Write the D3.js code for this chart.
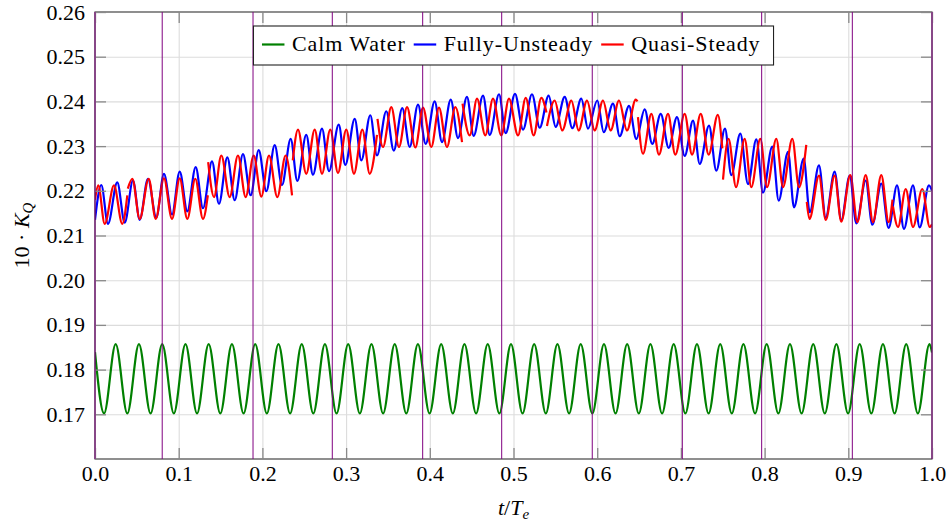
<!DOCTYPE html>
<html><head><meta charset="utf-8">
<script src="https://cdn.jsdelivr.net/npm/d3@7"></script>
<style>
body{margin:0;background:#fff}
svg text{font-family:"Liberation Serif","Tinos","DejaVu Serif","Noto Serif",serif !important;fill:#000}
</style></head>
<body>
<svg id="c" width="950" height="522"></svg>
<script>
// ---------- data ----------
const xTicks = [0.0,0.1,0.2,0.3,0.4,0.5,0.6,0.7,0.8,0.9,1.0];
const yTicks = [0.17,0.18,0.19,0.20,0.21,0.22,0.23,0.24,0.25,0.26];
const waveLines = [0, 0.0803, 0.1888, 0.2835, 0.3915, 0.4859, 0.5941, 0.7017, 0.7965, 0.9048, 1.0];
const seriesNames = ["Calm Water","Fully-Unsteady","Quasi-Steady"];
const seriesColors = ["#008000","#0000ff","#ff0000"];

// Calm water: start, alternating troughs/peaks, end
const calmX = [0,0.0108,0.0247,0.0386,0.0525,0.0664,0.0803,0.0942,0.1081,0.1219,0.1358,0.1497,0.1636,0.1775,0.1914,0.2053,0.2192,0.2331,0.2470,0.2608,0.2747,0.2886,0.3025,0.3164,0.3303,0.3442,0.3581,0.3719,0.3858,0.3997,0.4136,0.4275,0.4414,0.4553,0.4692,0.4831,0.4970,0.5108,0.5247,0.5386,0.5525,0.5664,0.5803,0.5942,0.6081,0.6219,0.6358,0.6497,0.6636,0.6775,0.6914,0.7053,0.7192,0.7331,0.7470,0.7608,0.7747,0.7886,0.8025,0.8164,0.8303,0.8442,0.8581,0.8719,0.8858,0.8997,0.9136,0.9275,0.9414,0.9553,0.9692,0.9831,0.9970,1.0];
const calmY = [0.1839,0.1702,0.1857,0.1702,0.1857,0.1702,0.1857,0.1702,0.1857,0.1702,0.1857,0.1702,0.1857,0.1702,0.1857,0.1702,0.1857,0.1702,0.1857,0.1702,0.1857,0.1702,0.1857,0.1702,0.1857,0.1702,0.1857,0.1702,0.1857,0.1702,0.1857,0.1702,0.1857,0.1702,0.1857,0.1702,0.1857,0.1702,0.1857,0.1702,0.1857,0.1702,0.1857,0.1702,0.1857,0.1702,0.1857,0.1702,0.1857,0.1702,0.1857,0.1702,0.1857,0.1702,0.1857,0.1702,0.1857,0.1702,0.1857,0.1702,0.1857,0.1702,0.1857,0.1702,0.1857,0.1702,0.1857,0.1702,0.1857,0.1702,0.1857,0.1702,0.1857,0.1838];

// Fully-unsteady: start, alternating peaks/troughs, end
const unsteadyX = [0,0.0075,0.0155,0.0266,0.0355,0.0454,0.0534,0.0633,0.0732,0.0824,0.0920,0.1012,0.1103,0.1203,0.1290,0.1398,0.1481,0.1581,0.1669,0.1768,0.1860,0.1956,0.2047,0.2147,0.2234,0.2338,0.2417,0.2524,0.2604,0.2712,0.2796,0.2912,0.2990,0.3103,0.3182,0.3289,0.3369,0.3480,0.3569,0.3671,0.3760,0.3859,0.3951,0.4058,0.4146,0.4250,0.4337,0.4444,0.4524,0.4636,0.4716,0.4827,0.4907,0.5018,0.5114,0.5221,0.5313,0.5420,0.5504,0.5612,0.5703,0.5810,0.5890,0.6001,0.6078,0.6189,0.6269,0.6380,0.6467,0.6567,0.6658,0.6759,0.6854,0.6953,0.7045,0.7145,0.7225,0.7336,0.7423,0.7527,0.7602,0.7710,0.7802,0.7901,0.7981,0.8092,0.8168,0.8280,0.8351,0.8467,0.8539,0.8650,0.8730,0.8837,0.8916,0.9017,0.9096,0.9208,0.9287,0.9394,0.9482,0.9582,0.9665,0.9773,0.9853,0.9964,1.0];
const unsteadyY = [0.2135,0.2213,0.2126,0.2219,0.2129,0.2223,0.2135,0.2227,0.2140,0.2238,0.2147,0.2243,0.2154,0.2253,0.2161,0.2266,0.2171,0.2275,0.2179,0.2282,0.2190,0.2291,0.2199,0.2302,0.2213,0.2316,0.2222,0.2325,0.2236,0.2339,0.2244,0.2348,0.2258,0.2361,0.2268,0.2369,0.2279,0.2378,0.2290,0.2385,0.2298,0.2393,0.2305,0.2400,0.2309,0.2404,0.2318,0.2410,0.2323,0.2413,0.2325,0.2416,0.2329,0.2417,0.2337,0.2416,0.2341,0.2413,0.2343,0.2410,0.2340,0.2406,0.2339,0.2402,0.2331,0.2395,0.2322,0.2390,0.2316,0.2382,0.2305,0.2372,0.2296,0.2365,0.2278,0.2357,0.2260,0.2346,0.2245,0.2339,0.2235,0.2328,0.2215,0.2315,0.2196,0.2299,0.2178,0.2287,0.2163,0.2272,0.2152,0.2257,0.2140,0.2243,0.2134,0.2234,0.2127,0.2223,0.2124,0.2216,0.2117,0.2212,0.2115,0.2212,0.2118,0.2212,0.2200];

// Quasi-steady: one sub-list per segment
const quasiX = [
 [0,0.0039,0.0116,0.0227,0.0326,0.0386],
 [0.0392,0.0446,0.0534,0.0642,0.0725,0.0824,0.0920,0.1012,0.1103,0.1198,0.1290,0.1348],
 [0.1352,0.1422,0.1509,0.1609,0.1708,0.1800,0.1896,0.1987,0.2079,0.2178,0.2278,0.2354],
 [0.2363,0.2425,0.2524,0.2625,0.2712,0.2811,0.2903,0.3002,0.3094,0.3194,0.3282,0.3369],
 [0.3375,0.3441,0.3540,0.3632,0.3728,0.3827,0.3919,0.4018,0.4110,0.4205,0.4305,0.4385],
 [0.4391,0.4477,0.4564,0.4663,0.4755,0.4854,0.4946,0.5054,0.5146,0.5241,0.5332,0.5394],
 [0.5400,0.5492,0.5583,0.5691,0.5779,0.5878,0.5970,0.6069,0.6161,0.6260,0.6356,0.6460,0.6481],
 [0.6487,0.6547,0.6647,0.6738,0.6846,0.6933,0.7045,0.7133,0.7237,0.7332,0.7441,0.7495],
 [0.7503,0.7569,0.7659,0.7762,0.7841,0.7949,0.8029,0.8140,0.8220,0.8331,0.8411,0.8498],
 [0.8504,0.8536,0.8650,0.8730,0.8837,0.8916,0.9024,0.9108,0.9208,0.9295,0.9394,0.9482,0.9528],
 [0.9534,0.9594,0.9686,0.9773,0.9884,0.9973,1.0]
];
const quasiY = [
 [0.2180,0.2212,0.2126,0.2212,0.2126,0.2190],
 [0.2205,0.2227,0.2137,0.2227,0.2137,0.2228,0.2137,0.2228,0.2137,0.2227,0.2137,0.2190],
 [0.2264,0.2186,0.2279,0.2186,0.2279,0.2186,0.2279,0.2187,0.2279,0.2186,0.2279,0.2190],
 [0.2268,0.2337,0.2238,0.2337,0.2238,0.2337,0.2240,0.2337,0.2238,0.2337,0.2238,0.2325],
 [0.2361,0.2298,0.2387,0.2298,0.2387,0.2297,0.2386,0.2298,0.2386,0.2298,0.2387,0.2309],
 [0.2395,0.2324,0.2406,0.2324,0.2406,0.2324,0.2406,0.2324,0.2408,0.2324,0.2408,0.2375],
 [0.2345,0.2402,0.2335,0.2402,0.2335,0.2402,0.2335,0.2402,0.2335,0.2402,0.2335,0.2404,0.2400],
 [0.2365,0.2283,0.2372,0.2281,0.2372,0.2281,0.2372,0.2281,0.2372,0.2281,0.2370,0.2295],
 [0.2225,0.2316,0.2208,0.2316,0.2208,0.2316,0.2208,0.2316,0.2208,0.2316,0.2208,0.2303],
 [0.2175,0.2137,0.2234,0.2135,0.2234,0.2131,0.2235,0.2130,0.2235,0.2130,0.2235,0.2130,0.2180],
 [0.2165,0.2119,0.2204,0.2119,0.2204,0.2119,0.2125]
];

// ---------- drawing ----------
const FONT = "'Liberation Serif','Tinos','DejaVu Serif','Noto Serif',serif";
const svg = d3.select("#c");
const L = 95, R = 932, T = 12, B = 459;
const x = d3.scaleLinear().domain([0,1]).range([L,R]);
const y = d3.scaleLinear().domain([0.16,0.26]).range([B,T]);

svg.append("defs").append("clipPath").attr("id","clip")
  .append("rect").attr("x",L).attr("y",T).attr("width",R-L).attr("height",B-T);

// grid
const gx = svg.append("g").attr("transform",`translate(0,${B})`)
  .call(d3.axisBottom(x).tickValues(xTicks.slice(1,-1)).tickSize(-(B-T)).tickFormat(""));
const gy = svg.append("g").attr("transform",`translate(${L},0)`)
  .call(d3.axisLeft(y).tickValues(yTicks.slice(0,-1)).tickSize(-(R-L)).tickFormat(""));
[gx,gy].forEach(g=>{g.select(".domain").remove();
  g.selectAll(".tick line").attr("stroke","#dcdcdc").attr("stroke-width",1.1);});

// curves
const plot = svg.append("g").attr("clip-path","url(#clip)");
function drawSeries(X, Y, color){
  const line = d3.line().x(i=>x(X[i])).y(i=>y(Y[i])).curve(d3.curveMonotoneX);
  plot.append("path").attr("d", line(d3.range(X.length)))
    .attr("fill","none").attr("stroke",color).attr("stroke-width",2.2)
    .attr("stroke-linejoin","round").attr("stroke-linecap","butt");
}
drawSeries(calmX, calmY, seriesColors[0]);
drawSeries(unsteadyX, unsteadyY, seriesColors[1]);
quasiX.forEach((sx,k)=>drawSeries(sx, quasiY[k], seriesColors[2]));

// frame
svg.append("rect").attr("x",L).attr("y",T).attr("width",R-L).attr("height",B-T)
  .attr("fill","none").attr("stroke","#333").attr("stroke-width",1.1);

// axes (inward ticks)
const tk = 11;
const axB = svg.append("g").attr("transform",`translate(0,${B})`)
  .call(d3.axisBottom(x).tickValues(xTicks).tickSize(-tk).tickPadding(6).tickFormat(d3.format(".1f")));
const axT = svg.append("g").attr("transform",`translate(0,${T})`)
  .call(d3.axisTop(x).tickValues(xTicks).tickSize(-tk).tickFormat(""));
const axL = svg.append("g").attr("transform",`translate(${L},0)`)
  .call(d3.axisLeft(y).tickValues(yTicks).tickSize(-tk).tickPadding(10).tickFormat(d3.format(".2f")));
const axR = svg.append("g").attr("transform",`translate(${R},0)`)
  .call(d3.axisRight(y).tickValues(yTicks).tickSize(-tk).tickFormat(""));
[axB,axT,axL,axR].forEach(g=>{
  g.attr("font-family",FONT).attr("font-size",22);
  g.select(".domain").remove();
  g.selectAll(".tick line").attr("stroke","#8a8a8a").attr("stroke-width",1.3);
  g.selectAll(".tick text").attr("fill","#000");
});

// wave lines (vertical purple)
svg.append("g").selectAll("line").data(waveLines).join("line")
  .attr("x1",d=>x(d)).attr("x2",d=>x(d)).attr("y1",T).attr("y2",B)
  .attr("stroke","#800080").attr("stroke-width",1);

// axis labels
const xl = svg.append("text").attr("x",(L+R)/2).attr("y",515).attr("text-anchor","middle")
  .attr("font-family",FONT).attr("font-size",22);
xl.append("tspan").attr("font-style","italic").text("t");
xl.append("tspan").text("/");
xl.append("tspan").attr("font-style","italic").text("T");
xl.append("tspan").attr("font-style","italic").attr("font-size",15).attr("dy",4).text("e");

const yl = svg.append("text").attr("transform",`translate(29,${(T+B)/2}) rotate(-90)`)
  .attr("text-anchor","middle").attr("font-family",FONT).attr("font-size",22);
yl.append("tspan").text("10 · ");
yl.append("tspan").attr("font-style","italic").text("K");
yl.append("tspan").attr("font-style","italic").attr("font-size",15).attr("dy",4).text("Q");

// legend
const lg = svg.append("g");
const box = lg.append("rect").attr("fill","#fff").attr("stroke","#222").attr("stroke-width",1.1);
let cx = 0;
seriesNames.forEach((name,i)=>{
  lg.append("line").attr("x1",cx).attr("x2",cx+22.5).attr("y1",0).attr("y2",0)
    .attr("stroke",seriesColors[i]).attr("stroke-width",2.2);
  const tx = lg.append("text").attr("x",cx+30).attr("y",6.5).attr("font-family",FONT).attr("font-size",22)
    .attr("letter-spacing","0.9px").text(name);
  const w = tx.node().getBBox().width;
  cx = cx + 30 + w + 8;
});
const innerW = cx - 8;
const boxW = innerW + 8.5 + 13;
const bx = (L+R)/2 - boxW/2;
lg.attr("transform",`translate(${bx+8.5},44.5)`);
box.attr("x",-8.5).attr("y",-18.5).attr("width",boxW).attr("height",39);
</script>
</body></html>
